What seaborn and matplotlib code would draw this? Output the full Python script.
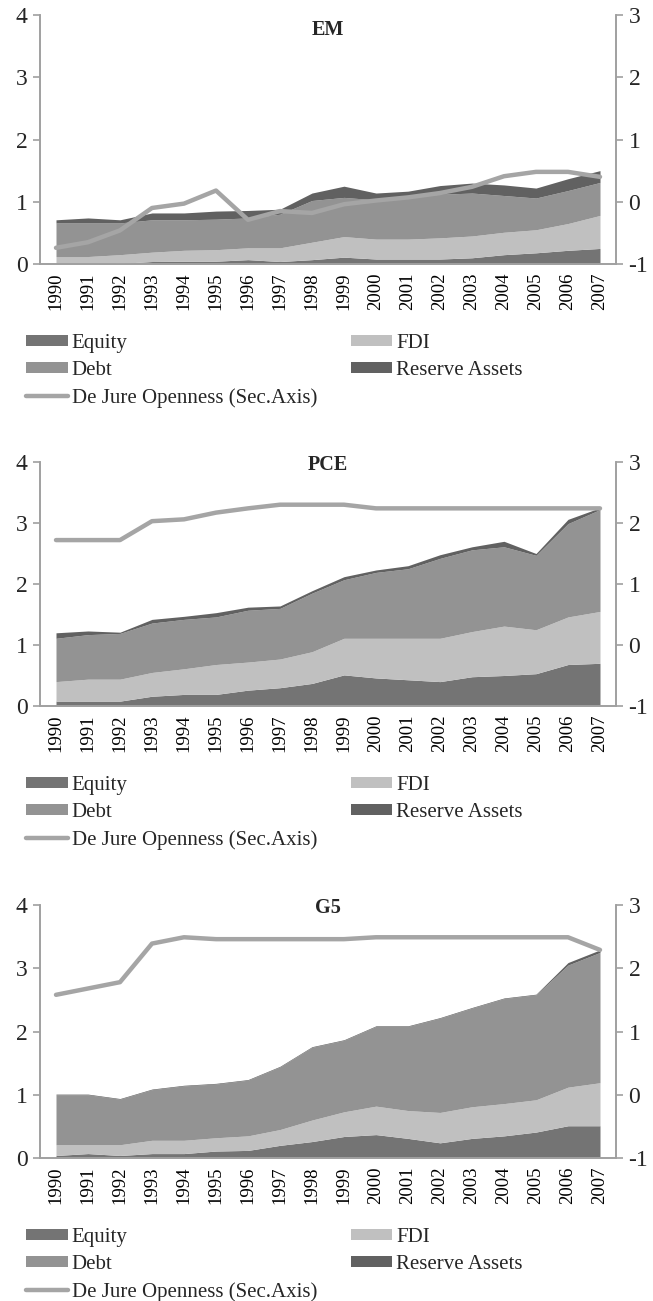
import numpy as np
import pandas as pd
import matplotlib
matplotlib.use("Agg")
import matplotlib.pyplot as plt
from matplotlib.patches import Patch
from matplotlib.lines import Line2D
import seaborn as sns

sns.set_theme(style="white")
plt.rcParams['font.family'] = ['Liberation Serif', 'DejaVu Serif']
plt.rcParams['axes.unicode_minus'] = False

years = list(range(1990, 2008))
year_labels = [str(y) for y in years]
series_names = ["Equity", "FDI", "Debt", "Reserve Assets"]
line_name = "De Jure Openness (Sec.Axis)"
panel_titles = ["EM", "PCE", "G5"]

# EM
em_equity = [0.005, 0.005, 0.01, 0.04, 0.045, 0.045, 0.07, 0.04, 0.07, 0.11, 0.08, 0.08, 0.08, 0.10, 0.15, 0.18, 0.22, 0.25]
em_fdi = [0.115, 0.115, 0.14, 0.15, 0.175, 0.185, 0.19, 0.22, 0.28, 0.33, 0.32, 0.32, 0.34, 0.35, 0.36, 0.37, 0.43, 0.53]
em_debt = [0.54, 0.54, 0.51, 0.52, 0.49, 0.49, 0.48, 0.54, 0.67, 0.63, 0.63, 0.67, 0.70, 0.69, 0.59, 0.51, 0.53, 0.53]
em_reserve = [0.05, 0.08, 0.05, 0.11, 0.11, 0.13, 0.12, 0.08, 0.12, 0.18, 0.11, 0.10, 0.14, 0.16, 0.17, 0.16, 0.19, 0.19]
em_dejure = [-0.74, -0.65, -0.46, -0.10, -0.03, 0.18, -0.29, -0.15, -0.18, -0.04, 0.02, 0.07, 0.14, 0.24, 0.41, 0.48, 0.48, 0.40]

# PCE
pce_equity = [0.08, 0.08, 0.08, 0.16, 0.19, 0.19, 0.26, 0.30, 0.37, 0.51, 0.46, 0.43, 0.40, 0.48, 0.50, 0.53, 0.68, 0.70]
pce_fdi = [0.32, 0.36, 0.36, 0.39, 0.42, 0.49, 0.46, 0.47, 0.52, 0.60, 0.65, 0.68, 0.71, 0.74, 0.81, 0.72, 0.78, 0.85]
pce_debt = [0.71, 0.73, 0.75, 0.81, 0.81, 0.78, 0.85, 0.83, 0.96, 0.96, 1.08, 1.14, 1.31, 1.34, 1.30, 1.22, 1.53, 1.67]
pce_reserve = [0.09, 0.06, 0.02, 0.06, 0.05, 0.07, 0.05, 0.04, 0.04, 0.05, 0.04, 0.05, 0.06, 0.05, 0.09, 0.03, 0.07, 0.03]
pce_dejure = [1.72, 1.72, 1.72, 2.03, 2.06, 2.17, 2.24, 2.30, 2.30, 2.30, 2.24, 2.24, 2.24, 2.24, 2.24, 2.24, 2.24, 2.24]

# G5
g5_equity = [0.04, 0.07, 0.04, 0.07, 0.07, 0.11, 0.12, 0.20, 0.26, 0.34, 0.37, 0.31, 0.24, 0.31, 0.35, 0.41, 0.51, 0.51]
g5_fdi = [0.17, 0.14, 0.17, 0.21, 0.21, 0.21, 0.23, 0.25, 0.34, 0.39, 0.45, 0.44, 0.48, 0.50, 0.51, 0.51, 0.61, 0.68]
g5_debt = [0.79, 0.79, 0.72, 0.80, 0.86, 0.85, 0.88, 0.99, 1.15, 1.13, 1.26, 1.33, 1.49, 1.56, 1.66, 1.66, 1.93, 2.06]
g5_reserve = [0.01, 0.01, 0.01, 0.01, 0.01, 0.01, 0.01, 0.01, 0.01, 0.01, 0.01, 0.01, 0.01, 0.01, 0.01, 0.01, 0.04, 0.04]
g5_dejure = [1.58, 1.68, 1.78, 2.39, 2.49, 2.46, 2.46, 2.46, 2.46, 2.46, 2.49, 2.49, 2.49, 2.49, 2.49, 2.49, 2.49, 2.29]

panels = [
    (em_equity, em_fdi, em_debt, em_reserve, em_dejure),
    (pce_equity, pce_fdi, pce_debt, pce_reserve, pce_dejure),
    (g5_equity, g5_fdi, g5_debt, g5_reserve, g5_dejure),
]

colors = ["#747474", "#c0c0c0", "#939393", "#616161"]
line_color = "#a5a5a5"
spine_color = "#a0a0a0"

W, H = 653, 1301
fig = plt.figure(figsize=(W / 100, H / 100), dpi=100)

# (top_px, bottom_px, title_offset_px)
geom = [(15, 264, 15), (462, 706, 3), (905, 1158, 3)]

x = np.arange(len(years))
for (top, bot, toff), title, data in zip(geom, panel_titles, panels):
    ax = fig.add_axes([40 / W, 1 - bot / H, (616 - 40) / W, (bot - top) / H])
    eq, fdi, debt, res, dj = data
    ax.stackplot(x, eq, fdi, debt, res, colors=colors, linewidth=0)
    ax.set_xlim(-0.5, len(years) - 0.5)
    ax.set_ylim(0, 4)
    ax.set_yticks([0, 1, 2, 3, 4])
    ax.set_yticklabels(["0", "1", "2", "3", "4"])
    ax.set_xticks(x)
    ax.set_xticklabels(year_labels, rotation=90)
    ax.set_xticks(np.arange(-0.5, len(years), 1.0), minor=True)
    ax.tick_params(axis="x", which="major", length=0, pad=6, labelsize=13.5, colors="black")
    ax.tick_params(axis="x", which="minor", length=5, width=1.2, color=spine_color, direction="out")
    ax.tick_params(axis="y", length=5, width=1.2, color=spine_color, direction="out", labelsize=17, pad=4)
    ax.grid(False)
    ax.spines["top"].set_visible(False)
    for s in ["left", "bottom", "right"]:
        ax.spines[s].set_color(spine_color)
        ax.spines[s].set_linewidth(1.2)
    ax.set_facecolor("none")

    ax2 = ax.twinx()
    df = pd.DataFrame({"x": x, "v": dj})
    sns.lineplot(data=df, x="x", y="v", ax=ax2, color=line_color, linewidth=3.2,
                 legend=False, solid_capstyle="round")
    ax2.set_ylim(-1, 3)
    ax2.set_yticks([-1, 0, 1, 2, 3])
    ax2.set_yticklabels(["-1", "0", "1", "2", "3"])
    ax2.set_xlim(-0.5, len(years) - 0.5)
    ax2.set_xlabel("")
    ax2.set_ylabel("")
    ax2.tick_params(axis="y", length=5, width=1.2, color=spine_color, direction="out", labelsize=17, pad=4)
    ax2.grid(False)
    ax2.spines["top"].set_visible(False)
    for s in ["left", "bottom", "right"]:
        ax2.spines[s].set_color(spine_color)
        ax2.spines[s].set_linewidth(1.2)

    ax.text(0.5, 1 - toff / (bot - top), title, transform=ax.transAxes,
            ha="center", va="center", fontsize=14.5, fontweight="bold")

    handles = [
        Patch(facecolor=colors[0], edgecolor="none"),
        Patch(facecolor=colors[2], edgecolor="none"),
        Line2D([0], [0], color=line_color, linewidth=3.2, solid_capstyle="round"),
        Patch(facecolor=colors[1], edgecolor="none"),
        Patch(facecolor=colors[3], edgecolor="none"),
    ]
    labels = ["Equity", "Debt", line_name, "FDI", "Reserve Assets"]
    leg_top = bot + 70
    fig.legend(handles, labels, loc="upper left", bbox_to_anchor=(26 / W, 1 - leg_top / H),
               ncol=2, frameon=False, fontsize=15, handlelength=2.0, handleheight=0.45,
               handletextpad=0.2, labelspacing=0.38, columnspacing=1.6,
               borderpad=0, borderaxespad=0)

fig.savefig("out.png", dpi=100)
